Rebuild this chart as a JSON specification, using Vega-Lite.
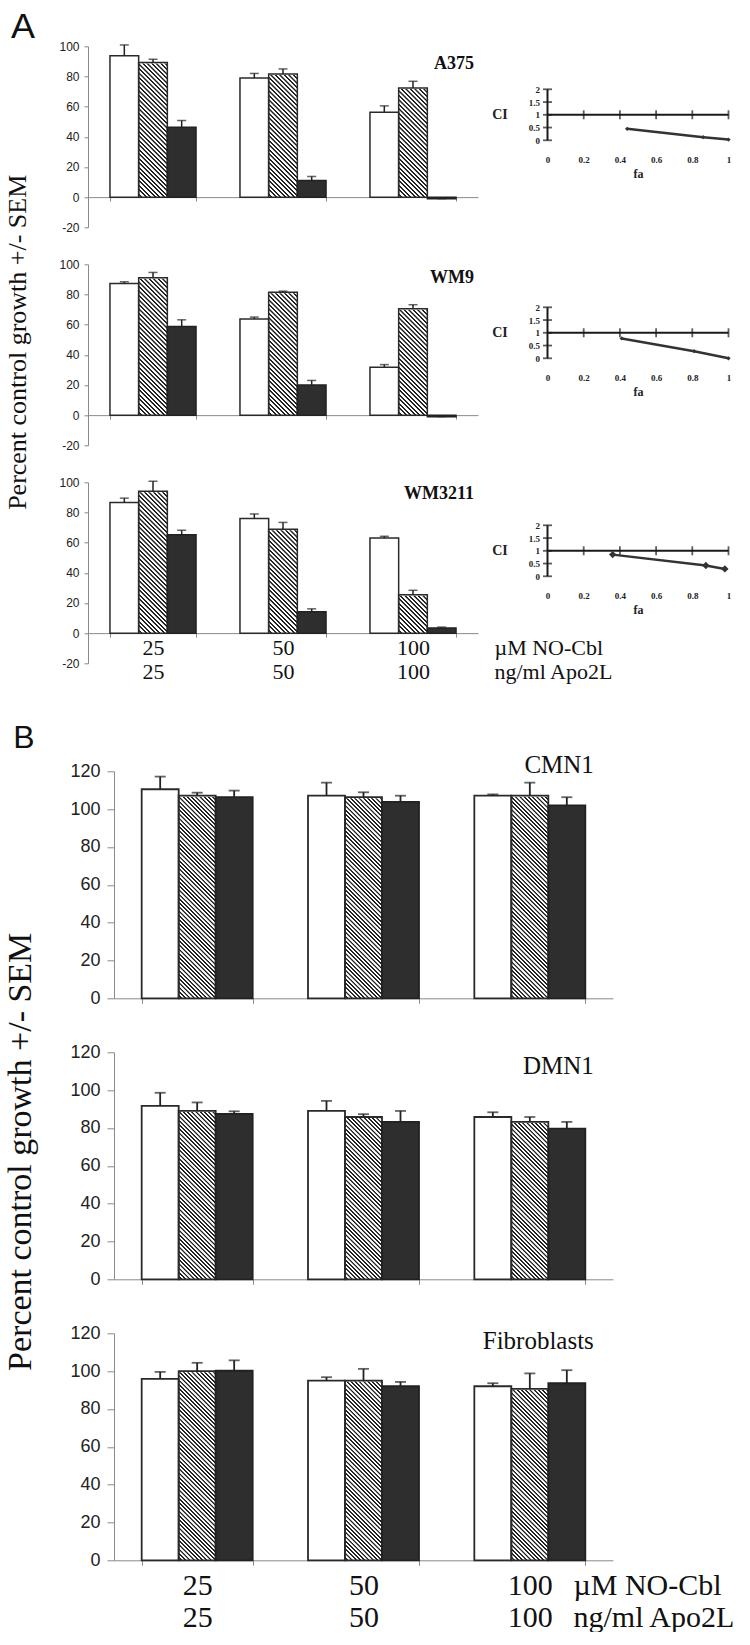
{
"$schema": "https://vega.github.io/schema/vega-lite/v6.json",
"padding": {"left": 2, "top": 8.3, "right": 0, "bottom": 0},
"background": "white",
"params": [
{"name": "hatchA", "value": {"gradient":"linear","x1":0,"y1":1,"x2":0.2184,"y2":-0.1488,"stops":[
{"offset":0,"color":"#fff"},{"offset":0.011,"color":"#fff"},{"offset":0.014,"color":"#222"},{"offset":0.0225,"color":"#222"},
{"offset":0.025,"color":"#fff"},{"offset":0.036,"color":"#fff"},{"offset":0.039,"color":"#222"},{"offset":0.0475,"color":"#222"},
{"offset":0.05,"color":"#fff"},{"offset":0.061,"color":"#fff"},{"offset":0.064,"color":"#222"},{"offset":0.0725,"color":"#222"},
{"offset":0.075,"color":"#fff"},{"offset":0.086,"color":"#fff"},{"offset":0.089,"color":"#222"},{"offset":0.0975,"color":"#222"},
{"offset":0.1,"color":"#fff"},{"offset":0.111,"color":"#fff"},{"offset":0.114,"color":"#222"},{"offset":0.1225,"color":"#222"},
{"offset":0.125,"color":"#fff"},{"offset":0.136,"color":"#fff"},{"offset":0.139,"color":"#222"},{"offset":0.1475,"color":"#222"},
{"offset":0.15,"color":"#fff"},{"offset":0.161,"color":"#fff"},{"offset":0.164,"color":"#222"},{"offset":0.1725,"color":"#222"},
{"offset":0.175,"color":"#fff"},{"offset":0.186,"color":"#fff"},{"offset":0.189,"color":"#222"},{"offset":0.1975,"color":"#222"},
{"offset":0.2,"color":"#fff"},{"offset":0.211,"color":"#fff"},{"offset":0.214,"color":"#222"},{"offset":0.2225,"color":"#222"},
{"offset":0.225,"color":"#fff"},{"offset":0.236,"color":"#fff"},{"offset":0.239,"color":"#222"},{"offset":0.2475,"color":"#222"},
{"offset":0.25,"color":"#fff"},{"offset":0.261,"color":"#fff"},{"offset":0.264,"color":"#222"},{"offset":0.2725,"color":"#222"},
{"offset":0.275,"color":"#fff"},{"offset":0.286,"color":"#fff"},{"offset":0.289,"color":"#222"},{"offset":0.2975,"color":"#222"},
{"offset":0.3,"color":"#fff"},{"offset":0.311,"color":"#fff"},{"offset":0.314,"color":"#222"},{"offset":0.3225,"color":"#222"},
{"offset":0.325,"color":"#fff"},{"offset":0.336,"color":"#fff"},{"offset":0.339,"color":"#222"},{"offset":0.3475,"color":"#222"},
{"offset":0.35,"color":"#fff"},{"offset":0.361,"color":"#fff"},{"offset":0.364,"color":"#222"},{"offset":0.3725,"color":"#222"},
{"offset":0.375,"color":"#fff"},{"offset":0.386,"color":"#fff"},{"offset":0.389,"color":"#222"},{"offset":0.3975,"color":"#222"},
{"offset":0.4,"color":"#fff"},{"offset":0.411,"color":"#fff"},{"offset":0.414,"color":"#222"},{"offset":0.4225,"color":"#222"},
{"offset":0.425,"color":"#fff"},{"offset":0.436,"color":"#fff"},{"offset":0.439,"color":"#222"},{"offset":0.4475,"color":"#222"},
{"offset":0.45,"color":"#fff"},{"offset":0.461,"color":"#fff"},{"offset":0.464,"color":"#222"},{"offset":0.4725,"color":"#222"},
{"offset":0.475,"color":"#fff"},{"offset":0.486,"color":"#fff"},{"offset":0.489,"color":"#222"},{"offset":0.4975,"color":"#222"},
{"offset":0.5,"color":"#fff"},{"offset":0.511,"color":"#fff"},{"offset":0.514,"color":"#222"},{"offset":0.5225,"color":"#222"},
{"offset":0.525,"color":"#fff"},{"offset":0.536,"color":"#fff"},{"offset":0.539,"color":"#222"},{"offset":0.5475,"color":"#222"},
{"offset":0.55,"color":"#fff"},{"offset":0.561,"color":"#fff"},{"offset":0.564,"color":"#222"},{"offset":0.5725,"color":"#222"},
{"offset":0.575,"color":"#fff"},{"offset":0.586,"color":"#fff"},{"offset":0.589,"color":"#222"},{"offset":0.5975,"color":"#222"},
{"offset":0.6,"color":"#fff"},{"offset":0.611,"color":"#fff"},{"offset":0.614,"color":"#222"},{"offset":0.6225,"color":"#222"},
{"offset":0.625,"color":"#fff"},{"offset":0.636,"color":"#fff"},{"offset":0.639,"color":"#222"},{"offset":0.6475,"color":"#222"},
{"offset":0.65,"color":"#fff"},{"offset":0.661,"color":"#fff"},{"offset":0.664,"color":"#222"},{"offset":0.6725,"color":"#222"},
{"offset":0.675,"color":"#fff"},{"offset":0.686,"color":"#fff"},{"offset":0.689,"color":"#222"},{"offset":0.6975,"color":"#222"},
{"offset":0.7,"color":"#fff"},{"offset":0.711,"color":"#fff"},{"offset":0.714,"color":"#222"},{"offset":0.7225,"color":"#222"},
{"offset":0.725,"color":"#fff"},{"offset":0.736,"color":"#fff"},{"offset":0.739,"color":"#222"},{"offset":0.7475,"color":"#222"},
{"offset":0.75,"color":"#fff"},{"offset":0.761,"color":"#fff"},{"offset":0.764,"color":"#222"},{"offset":0.7725,"color":"#222"},
{"offset":0.775,"color":"#fff"},{"offset":0.786,"color":"#fff"},{"offset":0.789,"color":"#222"},{"offset":0.7975,"color":"#222"},
{"offset":0.8,"color":"#fff"},{"offset":0.811,"color":"#fff"},{"offset":0.814,"color":"#222"},{"offset":0.8225,"color":"#222"},
{"offset":0.825,"color":"#fff"},{"offset":0.836,"color":"#fff"},{"offset":0.839,"color":"#222"},{"offset":0.8475,"color":"#222"},
{"offset":0.85,"color":"#fff"},{"offset":0.861,"color":"#fff"},{"offset":0.864,"color":"#222"},{"offset":0.8725,"color":"#222"},
{"offset":0.875,"color":"#fff"},{"offset":0.886,"color":"#fff"},{"offset":0.889,"color":"#222"},{"offset":0.8975,"color":"#222"},
{"offset":0.9,"color":"#fff"},{"offset":0.911,"color":"#fff"},{"offset":0.914,"color":"#222"},{"offset":0.9225,"color":"#222"},
{"offset":0.925,"color":"#fff"},{"offset":0.936,"color":"#fff"},{"offset":0.939,"color":"#222"},{"offset":0.9475,"color":"#222"},
{"offset":0.95,"color":"#fff"},{"offset":0.961,"color":"#fff"},{"offset":0.964,"color":"#222"},{"offset":0.9725,"color":"#222"},
{"offset":0.975,"color":"#fff"},{"offset":0.986,"color":"#fff"},{"offset":0.989,"color":"#222"},{"offset":0.9975,"color":"#222"},
{"offset":1,"color":"#fff"}]}},
{"name": "hatchB", "value": {"gradient":"linear","x1":0,"y1":1,"x2":0.1847,"y2":-0.1331,"stops":[
{"offset":0,"color":"#fff"},{"offset":0.007,"color":"#fff"},{"offset":0.009,"color":"#222"},{"offset":0.0144,"color":"#222"},
{"offset":0.016,"color":"#fff"},{"offset":0.023,"color":"#fff"},{"offset":0.025,"color":"#222"},{"offset":0.0304,"color":"#222"},
{"offset":0.032,"color":"#fff"},{"offset":0.039,"color":"#fff"},{"offset":0.041,"color":"#222"},{"offset":0.0464,"color":"#222"},
{"offset":0.048,"color":"#fff"},{"offset":0.055,"color":"#fff"},{"offset":0.057,"color":"#222"},{"offset":0.0624,"color":"#222"},
{"offset":0.064,"color":"#fff"},{"offset":0.071,"color":"#fff"},{"offset":0.073,"color":"#222"},{"offset":0.0784,"color":"#222"},
{"offset":0.08,"color":"#fff"},{"offset":0.087,"color":"#fff"},{"offset":0.089,"color":"#222"},{"offset":0.0944,"color":"#222"},
{"offset":0.096,"color":"#fff"},{"offset":0.103,"color":"#fff"},{"offset":0.105,"color":"#222"},{"offset":0.1104,"color":"#222"},
{"offset":0.112,"color":"#fff"},{"offset":0.119,"color":"#fff"},{"offset":0.121,"color":"#222"},{"offset":0.1264,"color":"#222"},
{"offset":0.128,"color":"#fff"},{"offset":0.135,"color":"#fff"},{"offset":0.137,"color":"#222"},{"offset":0.1424,"color":"#222"},
{"offset":0.144,"color":"#fff"},{"offset":0.151,"color":"#fff"},{"offset":0.153,"color":"#222"},{"offset":0.1584,"color":"#222"},
{"offset":0.16,"color":"#fff"},{"offset":0.167,"color":"#fff"},{"offset":0.169,"color":"#222"},{"offset":0.1744,"color":"#222"},
{"offset":0.176,"color":"#fff"},{"offset":0.183,"color":"#fff"},{"offset":0.185,"color":"#222"},{"offset":0.1904,"color":"#222"},
{"offset":0.192,"color":"#fff"},{"offset":0.199,"color":"#fff"},{"offset":0.201,"color":"#222"},{"offset":0.2064,"color":"#222"},
{"offset":0.208,"color":"#fff"},{"offset":0.215,"color":"#fff"},{"offset":0.217,"color":"#222"},{"offset":0.2224,"color":"#222"},
{"offset":0.224,"color":"#fff"},{"offset":0.231,"color":"#fff"},{"offset":0.233,"color":"#222"},{"offset":0.2384,"color":"#222"},
{"offset":0.24,"color":"#fff"},{"offset":0.247,"color":"#fff"},{"offset":0.249,"color":"#222"},{"offset":0.2544,"color":"#222"},
{"offset":0.256,"color":"#fff"},{"offset":0.263,"color":"#fff"},{"offset":0.265,"color":"#222"},{"offset":0.2704,"color":"#222"},
{"offset":0.272,"color":"#fff"},{"offset":0.279,"color":"#fff"},{"offset":0.281,"color":"#222"},{"offset":0.2864,"color":"#222"},
{"offset":0.288,"color":"#fff"},{"offset":0.295,"color":"#fff"},{"offset":0.297,"color":"#222"},{"offset":0.3024,"color":"#222"},
{"offset":0.304,"color":"#fff"},{"offset":0.311,"color":"#fff"},{"offset":0.313,"color":"#222"},{"offset":0.3184,"color":"#222"},
{"offset":0.32,"color":"#fff"},{"offset":0.327,"color":"#fff"},{"offset":0.329,"color":"#222"},{"offset":0.3344,"color":"#222"},
{"offset":0.336,"color":"#fff"},{"offset":0.343,"color":"#fff"},{"offset":0.345,"color":"#222"},{"offset":0.3504,"color":"#222"},
{"offset":0.352,"color":"#fff"},{"offset":0.359,"color":"#fff"},{"offset":0.361,"color":"#222"},{"offset":0.3664,"color":"#222"},
{"offset":0.368,"color":"#fff"},{"offset":0.375,"color":"#fff"},{"offset":0.377,"color":"#222"},{"offset":0.3824,"color":"#222"},
{"offset":0.384,"color":"#fff"},{"offset":0.391,"color":"#fff"},{"offset":0.393,"color":"#222"},{"offset":0.3984,"color":"#222"},
{"offset":0.4,"color":"#fff"},{"offset":0.407,"color":"#fff"},{"offset":0.409,"color":"#222"},{"offset":0.4144,"color":"#222"},
{"offset":0.416,"color":"#fff"},{"offset":0.423,"color":"#fff"},{"offset":0.425,"color":"#222"},{"offset":0.4304,"color":"#222"},
{"offset":0.432,"color":"#fff"},{"offset":0.439,"color":"#fff"},{"offset":0.441,"color":"#222"},{"offset":0.4464,"color":"#222"},
{"offset":0.448,"color":"#fff"},{"offset":0.455,"color":"#fff"},{"offset":0.457,"color":"#222"},{"offset":0.4624,"color":"#222"},
{"offset":0.464,"color":"#fff"},{"offset":0.471,"color":"#fff"},{"offset":0.473,"color":"#222"},{"offset":0.4784,"color":"#222"},
{"offset":0.48,"color":"#fff"},{"offset":0.487,"color":"#fff"},{"offset":0.489,"color":"#222"},{"offset":0.4944,"color":"#222"},
{"offset":0.496,"color":"#fff"},{"offset":0.503,"color":"#fff"},{"offset":0.505,"color":"#222"},{"offset":0.5104,"color":"#222"},
{"offset":0.512,"color":"#fff"},{"offset":0.519,"color":"#fff"},{"offset":0.521,"color":"#222"},{"offset":0.5264,"color":"#222"},
{"offset":0.528,"color":"#fff"},{"offset":0.535,"color":"#fff"},{"offset":0.537,"color":"#222"},{"offset":0.5424,"color":"#222"},
{"offset":0.544,"color":"#fff"},{"offset":0.551,"color":"#fff"},{"offset":0.553,"color":"#222"},{"offset":0.5584,"color":"#222"},
{"offset":0.56,"color":"#fff"},{"offset":0.567,"color":"#fff"},{"offset":0.569,"color":"#222"},{"offset":0.5744,"color":"#222"},
{"offset":0.576,"color":"#fff"},{"offset":0.583,"color":"#fff"},{"offset":0.585,"color":"#222"},{"offset":0.5904,"color":"#222"},
{"offset":0.592,"color":"#fff"},{"offset":0.599,"color":"#fff"},{"offset":0.601,"color":"#222"},{"offset":0.6064,"color":"#222"},
{"offset":0.608,"color":"#fff"},{"offset":0.615,"color":"#fff"},{"offset":0.617,"color":"#222"},{"offset":0.6224,"color":"#222"},
{"offset":0.624,"color":"#fff"},{"offset":0.631,"color":"#fff"},{"offset":0.633,"color":"#222"},{"offset":0.6384,"color":"#222"},
{"offset":0.64,"color":"#fff"},{"offset":0.647,"color":"#fff"},{"offset":0.649,"color":"#222"},{"offset":0.6544,"color":"#222"},
{"offset":0.656,"color":"#fff"},{"offset":0.663,"color":"#fff"},{"offset":0.665,"color":"#222"},{"offset":0.6704,"color":"#222"},
{"offset":0.672,"color":"#fff"},{"offset":0.679,"color":"#fff"},{"offset":0.681,"color":"#222"},{"offset":0.6864,"color":"#222"},
{"offset":0.688,"color":"#fff"},{"offset":0.695,"color":"#fff"},{"offset":0.697,"color":"#222"},{"offset":0.7024,"color":"#222"},
{"offset":0.704,"color":"#fff"},{"offset":0.711,"color":"#fff"},{"offset":0.713,"color":"#222"},{"offset":0.7184,"color":"#222"},
{"offset":0.72,"color":"#fff"},{"offset":0.727,"color":"#fff"},{"offset":0.729,"color":"#222"},{"offset":0.7344,"color":"#222"},
{"offset":0.736,"color":"#fff"},{"offset":0.743,"color":"#fff"},{"offset":0.745,"color":"#222"},{"offset":0.7504,"color":"#222"},
{"offset":0.752,"color":"#fff"},{"offset":0.759,"color":"#fff"},{"offset":0.761,"color":"#222"},{"offset":0.7664,"color":"#222"},
{"offset":0.768,"color":"#fff"},{"offset":0.775,"color":"#fff"},{"offset":0.777,"color":"#222"},{"offset":0.7824,"color":"#222"},
{"offset":0.784,"color":"#fff"},{"offset":0.791,"color":"#fff"},{"offset":0.793,"color":"#222"},{"offset":0.7984,"color":"#222"},
{"offset":0.8,"color":"#fff"},{"offset":0.807,"color":"#fff"},{"offset":0.809,"color":"#222"},{"offset":0.8144,"color":"#222"},
{"offset":0.816,"color":"#fff"},{"offset":0.823,"color":"#fff"},{"offset":0.825,"color":"#222"},{"offset":0.8304,"color":"#222"},
{"offset":0.832,"color":"#fff"},{"offset":0.839,"color":"#fff"},{"offset":0.841,"color":"#222"},{"offset":0.8464,"color":"#222"},
{"offset":0.848,"color":"#fff"},{"offset":0.855,"color":"#fff"},{"offset":0.857,"color":"#222"},{"offset":0.8624,"color":"#222"},
{"offset":0.864,"color":"#fff"},{"offset":0.871,"color":"#fff"},{"offset":0.873,"color":"#222"},{"offset":0.8784,"color":"#222"},
{"offset":0.88,"color":"#fff"},{"offset":0.887,"color":"#fff"},{"offset":0.889,"color":"#222"},{"offset":0.8944,"color":"#222"},
{"offset":0.896,"color":"#fff"},{"offset":0.903,"color":"#fff"},{"offset":0.905,"color":"#222"},{"offset":0.9104,"color":"#222"},
{"offset":0.912,"color":"#fff"},{"offset":0.919,"color":"#fff"},{"offset":0.921,"color":"#222"},{"offset":0.9264,"color":"#222"},
{"offset":0.928,"color":"#fff"},{"offset":0.935,"color":"#fff"},{"offset":0.937,"color":"#222"},{"offset":0.9424,"color":"#222"},
{"offset":0.944,"color":"#fff"},{"offset":0.951,"color":"#fff"},{"offset":0.953,"color":"#222"},{"offset":0.9584,"color":"#222"},
{"offset":0.96,"color":"#fff"},{"offset":0.967,"color":"#fff"},{"offset":0.969,"color":"#222"},{"offset":0.9744,"color":"#222"},
{"offset":0.976,"color":"#fff"},{"offset":0.983,"color":"#fff"},{"offset":0.985,"color":"#222"},{"offset":0.9904,"color":"#222"},
{"offset":0.992,"color":"#fff"},{"offset":1,"color":"#fff"}]}}
],
"datasets": {
"a375": [
{"dose":"25","s":"w","v":93.8,"top":100.9},{"dose":"25","s":"h","v":89.2,"top":91.4},{"dose":"25","s":"b","v":46.4,"top":50.8},
{"dose":"50","s":"w","v":79,"top":82},{"dose":"50","s":"h","v":81.7,"top":85},{"dose":"50","s":"b","v":11,"top":13.7},
{"dose":"100","s":"w","v":56.3,"top":60.5},{"dose":"100","s":"h","v":72.4,"top":76.8},{"dose":"100","s":"b","v":-1,"top":-1}],
"wm9": [
{"dose":"25","s":"w","v":87.3,"top":88.4},{"dose":"25","s":"h","v":91,"top":94.6},{"dose":"25","s":"b","v":58.7,"top":63.2},
{"dose":"50","s":"w","v":63.8,"top":65},{"dose":"50","s":"h","v":81.5,"top":82.2},{"dose":"50","s":"b","v":20,"top":23},
{"dose":"100","s":"w","v":31.7,"top":33.5},{"dose":"100","s":"h","v":70.5,"top":73.2},{"dose":"100","s":"b","v":-1,"top":-1}],
"wm3211": [
{"dose":"25","s":"w","v":86.6,"top":89.5},{"dose":"25","s":"h","v":94,"top":100.7},{"dose":"25","s":"b","v":65.3,"top":68.2},
{"dose":"50","s":"w","v":76,"top":79},{"dose":"50","s":"h","v":68.9,"top":73.4},{"dose":"50","s":"b","v":14.1,"top":16.1},
{"dose":"100","s":"w","v":63,"top":64.2},{"dose":"100","s":"h","v":25.5,"top":28.4},{"dose":"100","s":"b","v":3.4,"top":4}],
"cmn1": [
{"dose":"25","s":"w","v":110.5,"top":117.2},{"dose":"25","s":"h","v":107.1,"top":108.7},{"dose":"25","s":"b","v":106.4,"top":109.8},
{"dose":"50","s":"w","v":107.1,"top":114},{"dose":"50","s":"h","v":106.3,"top":108.9},{"dose":"50","s":"b","v":103.8,"top":107.1},
{"dose":"100","s":"w","v":107.1,"top":107.8},{"dose":"100","s":"h","v":107.1,"top":114},{"dose":"100","s":"b","v":102,"top":106.3}],
"dmn1": [
{"dose":"25","s":"w","v":91.7,"top":98.6},{"dose":"25","s":"h","v":89,"top":93.5},{"dose":"25","s":"b","v":87.4,"top":88.8},
{"dose":"50","s":"w","v":89,"top":94.3},{"dose":"50","s":"h","v":85.8,"top":87.3},{"dose":"50","s":"b","v":83.2,"top":89},
{"dose":"100","s":"w","v":85.8,"top":88.3},{"dose":"100","s":"h","v":83.2,"top":85.8},{"dose":"100","s":"b","v":79.6,"top":83.2}],
"fib": [
{"dose":"25","s":"w","v":95.9,"top":99.6},{"dose":"25","s":"h","v":100,"top":104.4},{"dose":"25","s":"b","v":100.2,"top":105.7},
{"dose":"50","s":"w","v":95,"top":96.8},{"dose":"50","s":"h","v":95,"top":101.2},{"dose":"50","s":"b","v":92,"top":94.3},
{"dose":"100","s":"w","v":92,"top":93.6},{"dose":"100","s":"h","v":90.6,"top":98.8},{"dose":"100","s":"b","v":93.6,"top":100.5}],
"ciA375": [{"fa":0.44,"ci":0.45},{"fa":0.86,"ci":0.12},{"fa":1,"ci":0.03}],
"ciWM9": [{"fa":0.41,"ci":0.78},{"fa":0.81,"ci":0.28},{"fa":1,"ci":0.0}],
"ciWM3211": [{"fa":0.36,"ci":0.85},{"fa":0.875,"ci":0.42},{"fa":0.98,"ci":0.29}],
"faTicks": [{"fa":0.2},{"fa":0.4},{"fa":0.6},{"fa":0.8},{"fa":1}],
"ciTicks": [{"ci":0},{"ci":0.5},{"ci":1},{"ci":1.5},{"ci":2}]
},
"spacing": 39,
"bounds": "full",
"resolve": {"scale": {"x": "independent", "y": "independent", "xOffset": "independent"}},
"vconcat": [
{"columns": 2, "spacing": {"row": 0, "column": 69.5}, "bounds": "flush", "align": "each",
 "resolve": {"scale": {"x": "independent", "y": "independent", "xOffset": "independent"}},
 "concat": [
{"width":390,"height":181,"data":{"name":"a375"},
 "encoding":{"x":{"field":"dose","type":"ordinal","sort":["25","50","100"],"scale":{"paddingInner":0.338,"paddingOuter":0.169},"axis":{"title":null,"labels":false,"ticks":true,"tickBand":"extent","offset":-30.17,"domainColor":"#8a8a8a","tickColor":"#8a8a8a","tickSize":4}}},
 "layer":[
  {"transform":[{"filter":"datum.s == 'h'"}],"mark":{"type":"bar","fill":{"expr":"hatchA"},"strokeWidth":0},"encoding":{"xOffset":{"field":"s","type":"nominal","scale":{"domain":["w","h","b"],"paddingInner":0,"paddingOuter":0}},"y":{"datum":0,"type":"quantitative","scale":{"domain":[-20,100],"nice":false,"zero":false},"axis":{"values":[-20,0,20,40,60,80,100],"tickCount":20,"labelExpr":"datum.value < 0 ? '-' + abs(datum.value) : '' + datum.value","title":null,"labelOverlap":false,"domainColor":"#8a8a8a","tickColor":"#8a8a8a","tickSize":4,"labelPadding":5,"labelFont":"Liberation Sans","labelFontSize":12,"labelColor":"#222"}},"y2":{"datum":100}}},
  {"transform":[{"filter":"datum.s == 'h'"}],"mark":{"type":"bar","fill":"#fff","stroke":"#fff","strokeWidth":2},"encoding":{"xOffset":{"field":"s","type":"nominal","scale":{"domain":["w","h","b"],"paddingInner":0,"paddingOuter":0}},"y":{"field":"v","type":"quantitative","scale":{"domain":[-20,100],"nice":false,"zero":false}},"y2":{"datum":100}}},
  {"transform":[{"filter":"datum.s == 'w'"}],"mark":{"type":"bar","fill":"#fff","stroke":"#2a2a2a","strokeWidth":1.5},"encoding":{"xOffset":{"field":"s","type":"nominal","scale":{"domain":["w","h","b"],"paddingInner":0,"paddingOuter":0}},"y":{"field":"v","type":"quantitative","scale":{"domain":[-20,100],"nice":false,"zero":false}},"y2":{"datum":0}}},
  {"transform":[{"filter":"datum.s == 'h'"}],"mark":{"type":"bar","fill":"#fff","fillOpacity":0,"stroke":"#2a2a2a","strokeWidth":1.5},"encoding":{"xOffset":{"field":"s","type":"nominal","scale":{"domain":["w","h","b"],"paddingInner":0,"paddingOuter":0}},"y":{"field":"v","type":"quantitative","scale":{"domain":[-20,100],"nice":false,"zero":false}},"y2":{"datum":0}}},
  {"transform":[{"filter":"datum.s == 'b'"}],"mark":{"type":"bar","fill":"#2e2e2e","stroke":"#222","strokeWidth":1.5},"encoding":{"xOffset":{"field":"s","type":"nominal","scale":{"domain":["w","h","b"],"paddingInner":0,"paddingOuter":0}},"y":{"field":"v","type":"quantitative","scale":{"domain":[-20,100],"nice":false,"zero":false}},"y2":{"datum":0}}},
  {"mark":{"type":"rule","color":"#222","strokeWidth":1.5},"encoding":{"xOffset":{"field":"s","type":"nominal","scale":{"domain":["w","h","b"],"paddingInner":0,"paddingOuter":0}},"y":{"field":"v","type":"quantitative","scale":{"domain":[-20,100],"nice":false,"zero":false}},"y2":{"field":"top"}}},
  {"mark":{"type":"tick","color":"#222","size":9,"thickness":1.5},"encoding":{"xOffset":{"field":"s","type":"nominal","scale":{"domain":["w","h","b"],"paddingInner":0,"paddingOuter":0}},"y":{"field":"top","type":"quantitative","scale":{"domain":[-20,100],"nice":false,"zero":false}}}},
  {"data":{"values":[{"t":"A375"}]},"mark":{"type":"text","align":"right","baseline":"middle","dx":61,"font":"Liberation Serif","fontSize":18,"fontWeight":"bold","color":"#111"},"encoding":{"x":{"datum":"100","type":"ordinal"},"y":{"datum":88,"type":"quantitative","scale":{"domain":[-20,100],"nice":false,"zero":false}},"text":{"field":"t"}}},
  {"data":{"values":[{"t":"A"}]},"mark":{"type":"text","align":"left","baseline":"alphabetic","dx":-142,"font":"Liberation Sans","fontSize":36,"color":"#111"},"encoding":{"x":{"datum":"25","type":"ordinal"},"y":{"datum":105.8,"type":"quantitative","scale":{"domain":[-20,100],"nice":false,"zero":false}},"text":{"field":"t"}}}
 ]},
{"width":181,"height":181,"layer":[
 {"data":{"values":[{}]},"mark":{"type":"rule","color":"#1a1a1a","strokeWidth":2},"encoding":{"x":{"datum":0,"type":"quantitative","scale":{"domain":[0,1],"nice":false,"zero":false},"axis":{"values":[0,0.2,0.4,0.6,0.8,1],"tickCount":20,"format":"~g","title":"fa","offset":-73,"domain":false,"ticks":false,"tickSize":0,"labelPadding":1,"labelFont":"Liberation Serif","labelFontWeight":"bold","labelFontSize":9,"labelColor":"#222","labelFlush":false,"labelOverlap":false,"titleFont":"Liberation Serif","titleFontWeight":"bold","titleFontSize":12,"titleColor":"#222","titlePadding":4}},"x2":{"datum":1},"y":{"datum":1,"type":"quantitative","scale":{"domain":[-3.412,3.686],"nice":false,"zero":false},"axis":{"values":[0,0.5,1,1.5,2],"tickCount":20,"format":"~g","title":"CI","titleAngle":0,"titleX":-48,"titleY":68.5,"titleAlign":"center","titleBaseline":"middle","titleFont":"Liberation Serif","titleFontWeight":"bold","titleFontSize":14,"titleColor":"#222","domain":false,"ticks":false,"tickSize":0,"labelPadding":8,"labelFont":"Liberation Serif","labelFontWeight":"bold","labelFontSize":9,"labelColor":"#222","labelOverlap":false,"labelFlush":false}}}},
 {"data":{"values":[{}]},"mark":{"type":"rule","color":"#1a1a1a","strokeWidth":2},"encoding":{"x":{"datum":0,"type":"quantitative","scale":{"domain":[0,1],"nice":false,"zero":false}},"y":{"datum":0,"type":"quantitative","scale":{"domain":[-3.412,3.686],"nice":false,"zero":false}},"y2":{"datum":2}}},
 {"data":{"name":"faTicks"},"mark":{"type":"tick","orient":"vertical","size":9,"thickness":1.8,"color":"#1a1a1a"},"encoding":{"x":{"field":"fa","type":"quantitative","scale":{"domain":[0,1],"nice":false,"zero":false}},"y":{"datum":1,"type":"quantitative","scale":{"domain":[-3.412,3.686],"nice":false,"zero":false}}}},
 {"data":{"name":"ciTicks"},"mark":{"type":"tick","orient":"horizontal","size":9,"thickness":1.8,"color":"#1a1a1a"},"encoding":{"x":{"datum":0,"type":"quantitative","scale":{"domain":[0,1],"nice":false,"zero":false}},"y":{"field":"ci","type":"quantitative","scale":{"domain":[-3.412,3.686],"nice":false,"zero":false}}}},
 {"data":{"name":"ciA375"},"mark":{"type":"line","color":"#333","strokeWidth":2.5,"point":{"shape":"diamond","size":18,"color":"#333","filled":true}},"encoding":{"x":{"field":"fa","type":"quantitative","scale":{"domain":[0,1],"nice":false,"zero":false}},"y":{"field":"ci","type":"quantitative","scale":{"domain":[-3.412,3.686],"nice":false,"zero":false}}}}
]},
{"width":1,"height":36.6,"data":{"values":[]},"mark":"point"},
{"width":1,"height":1,"data":{"values":[]},"mark":"point"},
{"width":390,"height":181,"data":{"name":"wm9"},
 "encoding":{"x":{"field":"dose","type":"ordinal","sort":["25","50","100"],"scale":{"paddingInner":0.338,"paddingOuter":0.169},"axis":{"title":null,"labels":false,"ticks":true,"tickBand":"extent","offset":-30.17,"domainColor":"#8a8a8a","tickColor":"#8a8a8a","tickSize":4}}},
 "layer":[
  {"transform":[{"filter":"datum.s == 'h'"}],"mark":{"type":"bar","fill":{"expr":"hatchA"},"strokeWidth":0},"encoding":{"xOffset":{"field":"s","type":"nominal","scale":{"domain":["w","h","b"],"paddingInner":0,"paddingOuter":0}},"y":{"datum":0,"type":"quantitative","scale":{"domain":[-20,100],"nice":false,"zero":false},"axis":{"values":[-20,0,20,40,60,80,100],"tickCount":20,"labelExpr":"datum.value < 0 ? '-' + abs(datum.value) : '' + datum.value","title":"Percent control growth +/- SEM","titleX":-71,"titleY":77.5,"titleAngle":270,"titleAlign":"center","titleBaseline":"middle","titleFont":"Liberation Serif","titleFontSize":26,"titleFontWeight":"normal","titleColor":"#111","labelOverlap":false,"domainColor":"#8a8a8a","tickColor":"#8a8a8a","tickSize":4,"labelPadding":5,"labelFont":"Liberation Sans","labelFontSize":12,"labelColor":"#222"}},"y2":{"datum":100}}},
  {"transform":[{"filter":"datum.s == 'h'"}],"mark":{"type":"bar","fill":"#fff","stroke":"#fff","strokeWidth":2},"encoding":{"xOffset":{"field":"s","type":"nominal","scale":{"domain":["w","h","b"],"paddingInner":0,"paddingOuter":0}},"y":{"field":"v","type":"quantitative","scale":{"domain":[-20,100],"nice":false,"zero":false}},"y2":{"datum":100}}},
  {"transform":[{"filter":"datum.s == 'w'"}],"mark":{"type":"bar","fill":"#fff","stroke":"#2a2a2a","strokeWidth":1.5},"encoding":{"xOffset":{"field":"s","type":"nominal","scale":{"domain":["w","h","b"],"paddingInner":0,"paddingOuter":0}},"y":{"field":"v","type":"quantitative","scale":{"domain":[-20,100],"nice":false,"zero":false}},"y2":{"datum":0}}},
  {"transform":[{"filter":"datum.s == 'h'"}],"mark":{"type":"bar","fill":"#fff","fillOpacity":0,"stroke":"#2a2a2a","strokeWidth":1.5},"encoding":{"xOffset":{"field":"s","type":"nominal","scale":{"domain":["w","h","b"],"paddingInner":0,"paddingOuter":0}},"y":{"field":"v","type":"quantitative","scale":{"domain":[-20,100],"nice":false,"zero":false}},"y2":{"datum":0}}},
  {"transform":[{"filter":"datum.s == 'b'"}],"mark":{"type":"bar","fill":"#2e2e2e","stroke":"#222","strokeWidth":1.5},"encoding":{"xOffset":{"field":"s","type":"nominal","scale":{"domain":["w","h","b"],"paddingInner":0,"paddingOuter":0}},"y":{"field":"v","type":"quantitative","scale":{"domain":[-20,100],"nice":false,"zero":false}},"y2":{"datum":0}}},
  {"mark":{"type":"rule","color":"#222","strokeWidth":1.5},"encoding":{"xOffset":{"field":"s","type":"nominal","scale":{"domain":["w","h","b"],"paddingInner":0,"paddingOuter":0}},"y":{"field":"v","type":"quantitative","scale":{"domain":[-20,100],"nice":false,"zero":false}},"y2":{"field":"top"}}},
  {"mark":{"type":"tick","color":"#222","size":9,"thickness":1.5},"encoding":{"xOffset":{"field":"s","type":"nominal","scale":{"domain":["w","h","b"],"paddingInner":0,"paddingOuter":0}},"y":{"field":"top","type":"quantitative","scale":{"domain":[-20,100],"nice":false,"zero":false}}}},
  {"data":{"values":[{"t":"WM9"}]},"mark":{"type":"text","align":"right","baseline":"middle","dx":61,"font":"Liberation Serif","fontSize":18,"fontWeight":"bold","color":"#111"},"encoding":{"x":{"datum":"100","type":"ordinal"},"y":{"datum":91,"type":"quantitative","scale":{"domain":[-20,100],"nice":false,"zero":false}},"text":{"field":"t"}}}
 ]},
{"width":181,"height":181,"layer":[
 {"data":{"values":[{}]},"mark":{"type":"rule","color":"#1a1a1a","strokeWidth":2},"encoding":{"x":{"datum":0,"type":"quantitative","scale":{"domain":[0,1],"nice":false,"zero":false},"axis":{"values":[0,0.2,0.4,0.6,0.8,1],"tickCount":20,"format":"~g","title":"fa","offset":-73,"domain":false,"ticks":false,"tickSize":0,"labelPadding":1,"labelFont":"Liberation Serif","labelFontWeight":"bold","labelFontSize":9,"labelColor":"#222","labelFlush":false,"labelOverlap":false,"titleFont":"Liberation Serif","titleFontWeight":"bold","titleFontSize":12,"titleColor":"#222","titlePadding":4}},"x2":{"datum":1},"y":{"datum":1,"type":"quantitative","scale":{"domain":[-3.412,3.686],"nice":false,"zero":false},"axis":{"values":[0,0.5,1,1.5,2],"tickCount":20,"format":"~g","title":"CI","titleAngle":0,"titleX":-48,"titleY":68.5,"titleAlign":"center","titleBaseline":"middle","titleFont":"Liberation Serif","titleFontWeight":"bold","titleFontSize":14,"titleColor":"#222","domain":false,"ticks":false,"tickSize":0,"labelPadding":8,"labelFont":"Liberation Serif","labelFontWeight":"bold","labelFontSize":9,"labelColor":"#222","labelOverlap":false,"labelFlush":false}}}},
 {"data":{"values":[{}]},"mark":{"type":"rule","color":"#1a1a1a","strokeWidth":2},"encoding":{"x":{"datum":0,"type":"quantitative","scale":{"domain":[0,1],"nice":false,"zero":false}},"y":{"datum":0,"type":"quantitative","scale":{"domain":[-3.412,3.686],"nice":false,"zero":false}},"y2":{"datum":2}}},
 {"data":{"name":"faTicks"},"mark":{"type":"tick","orient":"vertical","size":9,"thickness":1.8,"color":"#1a1a1a"},"encoding":{"x":{"field":"fa","type":"quantitative","scale":{"domain":[0,1],"nice":false,"zero":false}},"y":{"datum":1,"type":"quantitative","scale":{"domain":[-3.412,3.686],"nice":false,"zero":false}}}},
 {"data":{"name":"ciTicks"},"mark":{"type":"tick","orient":"horizontal","size":9,"thickness":1.8,"color":"#1a1a1a"},"encoding":{"x":{"datum":0,"type":"quantitative","scale":{"domain":[0,1],"nice":false,"zero":false}},"y":{"field":"ci","type":"quantitative","scale":{"domain":[-3.412,3.686],"nice":false,"zero":false}}}},
 {"data":{"name":"ciWM9"},"mark":{"type":"line","color":"#333","strokeWidth":2.5,"point":{"shape":"diamond","size":18,"color":"#333","filled":true}},"encoding":{"x":{"field":"fa","type":"quantitative","scale":{"domain":[0,1],"nice":false,"zero":false}},"y":{"field":"ci","type":"quantitative","scale":{"domain":[-3.412,3.686],"nice":false,"zero":false}}}}
]},
{"width":1,"height":36.4,"data":{"values":[]},"mark":"point"},
{"width":1,"height":1,"data":{"values":[]},"mark":"point"},
{"width":390,"height":181,"data":{"name":"wm3211"},
 "encoding":{"x":{"field":"dose","type":"ordinal","sort":["25","50","100"],"scale":{"paddingInner":0.338,"paddingOuter":0.169},"axis":{"title":["µM NO-Cbl","ng/ml Apo2L"],"labels":true,"labelExpr":"[datum.label, datum.label]","labelAngle":0,"labelFont":"Liberation Serif","labelFontSize":22,"labelLineHeight":24,"labelColor":"#111","labelPadding":0,"labelOverlap":false,"ticks":true,"tickBand":"extent","offset":-30.17,"domainColor":"#8a8a8a","tickColor":"#8a8a8a","tickSize":4,"titleFont":"Liberation Serif","titleFontSize":22,"titleFontWeight":"normal","titleLineHeight":24,"titleColor":"#111","titleX":406,"titleY":4,"titleAlign":"left","titleBaseline":"top"}}},
 "layer":[
  {"transform":[{"filter":"datum.s == 'h'"}],"mark":{"type":"bar","fill":{"expr":"hatchA"},"strokeWidth":0},"encoding":{"xOffset":{"field":"s","type":"nominal","scale":{"domain":["w","h","b"],"paddingInner":0,"paddingOuter":0}},"y":{"datum":0,"type":"quantitative","scale":{"domain":[-20,100],"nice":false,"zero":false},"axis":{"values":[-20,0,20,40,60,80,100],"tickCount":20,"labelExpr":"datum.value < 0 ? '-' + abs(datum.value) : '' + datum.value","title":null,"labelOverlap":false,"domainColor":"#8a8a8a","tickColor":"#8a8a8a","tickSize":4,"labelPadding":5,"labelFont":"Liberation Sans","labelFontSize":12,"labelColor":"#222"}},"y2":{"datum":100}}},
  {"transform":[{"filter":"datum.s == 'h'"}],"mark":{"type":"bar","fill":"#fff","stroke":"#fff","strokeWidth":2},"encoding":{"xOffset":{"field":"s","type":"nominal","scale":{"domain":["w","h","b"],"paddingInner":0,"paddingOuter":0}},"y":{"field":"v","type":"quantitative","scale":{"domain":[-20,100],"nice":false,"zero":false}},"y2":{"datum":100}}},
  {"transform":[{"filter":"datum.s == 'w'"}],"mark":{"type":"bar","fill":"#fff","stroke":"#2a2a2a","strokeWidth":1.5},"encoding":{"xOffset":{"field":"s","type":"nominal","scale":{"domain":["w","h","b"],"paddingInner":0,"paddingOuter":0}},"y":{"field":"v","type":"quantitative","scale":{"domain":[-20,100],"nice":false,"zero":false}},"y2":{"datum":0}}},
  {"transform":[{"filter":"datum.s == 'h'"}],"mark":{"type":"bar","fill":"#fff","fillOpacity":0,"stroke":"#2a2a2a","strokeWidth":1.5},"encoding":{"xOffset":{"field":"s","type":"nominal","scale":{"domain":["w","h","b"],"paddingInner":0,"paddingOuter":0}},"y":{"field":"v","type":"quantitative","scale":{"domain":[-20,100],"nice":false,"zero":false}},"y2":{"datum":0}}},
  {"transform":[{"filter":"datum.s == 'b'"}],"mark":{"type":"bar","fill":"#2e2e2e","stroke":"#222","strokeWidth":1.5},"encoding":{"xOffset":{"field":"s","type":"nominal","scale":{"domain":["w","h","b"],"paddingInner":0,"paddingOuter":0}},"y":{"field":"v","type":"quantitative","scale":{"domain":[-20,100],"nice":false,"zero":false}},"y2":{"datum":0}}},
  {"mark":{"type":"rule","color":"#222","strokeWidth":1.5},"encoding":{"xOffset":{"field":"s","type":"nominal","scale":{"domain":["w","h","b"],"paddingInner":0,"paddingOuter":0}},"y":{"field":"v","type":"quantitative","scale":{"domain":[-20,100],"nice":false,"zero":false}},"y2":{"field":"top"}}},
  {"mark":{"type":"tick","color":"#222","size":9,"thickness":1.5},"encoding":{"xOffset":{"field":"s","type":"nominal","scale":{"domain":["w","h","b"],"paddingInner":0,"paddingOuter":0}},"y":{"field":"top","type":"quantitative","scale":{"domain":[-20,100],"nice":false,"zero":false}}}},
  {"data":{"values":[{"t":"WM3211"}]},"mark":{"type":"text","align":"right","baseline":"middle","dx":61,"font":"Liberation Serif","fontSize":18,"fontWeight":"bold","color":"#111"},"encoding":{"x":{"datum":"100","type":"ordinal"},"y":{"datum":92,"type":"quantitative","scale":{"domain":[-20,100],"nice":false,"zero":false}},"text":{"field":"t"}}}
 ]},
{"width":181,"height":181,"layer":[
 {"data":{"values":[{}]},"mark":{"type":"rule","color":"#1a1a1a","strokeWidth":2},"encoding":{"x":{"datum":0,"type":"quantitative","scale":{"domain":[0,1],"nice":false,"zero":false},"axis":{"values":[0,0.2,0.4,0.6,0.8,1],"tickCount":20,"format":"~g","title":"fa","offset":-73,"domain":false,"ticks":false,"tickSize":0,"labelPadding":1,"labelFont":"Liberation Serif","labelFontWeight":"bold","labelFontSize":9,"labelColor":"#222","labelFlush":false,"labelOverlap":false,"titleFont":"Liberation Serif","titleFontWeight":"bold","titleFontSize":12,"titleColor":"#222","titlePadding":4}},"x2":{"datum":1},"y":{"datum":1,"type":"quantitative","scale":{"domain":[-3.412,3.686],"nice":false,"zero":false},"axis":{"values":[0,0.5,1,1.5,2],"tickCount":20,"format":"~g","title":"CI","titleAngle":0,"titleX":-48,"titleY":68.5,"titleAlign":"center","titleBaseline":"middle","titleFont":"Liberation Serif","titleFontWeight":"bold","titleFontSize":14,"titleColor":"#222","domain":false,"ticks":false,"tickSize":0,"labelPadding":8,"labelFont":"Liberation Serif","labelFontWeight":"bold","labelFontSize":9,"labelColor":"#222","labelOverlap":false,"labelFlush":false}}}},
 {"data":{"values":[{}]},"mark":{"type":"rule","color":"#1a1a1a","strokeWidth":2},"encoding":{"x":{"datum":0,"type":"quantitative","scale":{"domain":[0,1],"nice":false,"zero":false}},"y":{"datum":0,"type":"quantitative","scale":{"domain":[-3.412,3.686],"nice":false,"zero":false}},"y2":{"datum":2}}},
 {"data":{"name":"faTicks"},"mark":{"type":"tick","orient":"vertical","size":9,"thickness":1.8,"color":"#1a1a1a"},"encoding":{"x":{"field":"fa","type":"quantitative","scale":{"domain":[0,1],"nice":false,"zero":false}},"y":{"datum":1,"type":"quantitative","scale":{"domain":[-3.412,3.686],"nice":false,"zero":false}}}},
 {"data":{"name":"ciTicks"},"mark":{"type":"tick","orient":"horizontal","size":9,"thickness":1.8,"color":"#1a1a1a"},"encoding":{"x":{"datum":0,"type":"quantitative","scale":{"domain":[0,1],"nice":false,"zero":false}},"y":{"field":"ci","type":"quantitative","scale":{"domain":[-3.412,3.686],"nice":false,"zero":false}}}},
 {"data":{"name":"ciWM3211"},"mark":{"type":"line","color":"#333","strokeWidth":2.5,"point":{"shape":"diamond","size":55,"color":"#333","filled":true}},"encoding":{"x":{"field":"fa","type":"quantitative","scale":{"domain":[0,1],"nice":false,"zero":false}},"y":{"field":"ci","type":"quantitative","scale":{"domain":[-3.412,3.686],"nice":false,"zero":false}}}}
]}
 ]},
{"columns": 2, "spacing": {"row": 54, "column": 25}, "bounds": "flush", "align": "each",
 "resolve": {"scale": {"x": "independent", "y": "independent", "xOffset": "independent"}},
 "concat": [
{"width":1,"height":1,"data":{"values":[]},"mark":"point"},
{"width":499,"height":227,"data":{"name":"cmn1"},
 "encoding":{"x":{"field":"dose","type":"ordinal","sort":["25","50","100"],"scale":{"paddingInner":0.3327,"paddingOuter":0.1664},"axis":{"title":null,"labels":false,"ticks":true,"tickBand":"extent","domainColor":"#8a8a8a","tickColor":"#8a8a8a","tickSize":5}}},
 "layer":[
  {"transform":[{"filter":"datum.s == 'h'"}],"mark":{"type":"bar","fill":{"expr":"hatchB"},"strokeWidth":0},"encoding":{"xOffset":{"field":"s","type":"nominal","scale":{"domain":["w","h","b"],"paddingInner":0,"paddingOuter":0}},"y":{"datum":0,"type":"quantitative","scale":{"domain":[0,120],"nice":false,"zero":false},"axis":{"values":[0,20,40,60,80,100,120],"tickCount":20,"title":null,"labelOverlap":false,"domainColor":"#8a8a8a","tickColor":"#8a8a8a","tickSize":7,"labelPadding":7,"labelFont":"Liberation Sans","labelFontSize":18,"labelColor":"#222"}},"y2":{"datum":120}}},
  {"transform":[{"filter":"datum.s == 'h'"}],"mark":{"type":"bar","fill":"#fff","stroke":"#fff","strokeWidth":2},"encoding":{"xOffset":{"field":"s","type":"nominal","scale":{"domain":["w","h","b"],"paddingInner":0,"paddingOuter":0}},"y":{"field":"v","type":"quantitative","scale":{"domain":[0,120],"nice":false,"zero":false}},"y2":{"datum":120}}},
  {"transform":[{"filter":"datum.s == 'w'"}],"mark":{"type":"bar","fill":"#fff","stroke":"#2a2a2a","strokeWidth":1.8},"encoding":{"xOffset":{"field":"s","type":"nominal","scale":{"domain":["w","h","b"],"paddingInner":0,"paddingOuter":0}},"y":{"field":"v","type":"quantitative","scale":{"domain":[0,120],"nice":false,"zero":false}},"y2":{"datum":0}}},
  {"transform":[{"filter":"datum.s == 'h'"}],"mark":{"type":"bar","fill":"#fff","fillOpacity":0,"stroke":"#2a2a2a","strokeWidth":1.8},"encoding":{"xOffset":{"field":"s","type":"nominal","scale":{"domain":["w","h","b"],"paddingInner":0,"paddingOuter":0}},"y":{"field":"v","type":"quantitative","scale":{"domain":[0,120],"nice":false,"zero":false}},"y2":{"datum":0}}},
  {"transform":[{"filter":"datum.s == 'b'"}],"mark":{"type":"bar","fill":"#2e2e2e","stroke":"#222","strokeWidth":1.8},"encoding":{"xOffset":{"field":"s","type":"nominal","scale":{"domain":["w","h","b"],"paddingInner":0,"paddingOuter":0}},"y":{"field":"v","type":"quantitative","scale":{"domain":[0,120],"nice":false,"zero":false}},"y2":{"datum":0}}},
  {"mark":{"type":"rule","color":"#222","strokeWidth":1.8},"encoding":{"xOffset":{"field":"s","type":"nominal","scale":{"domain":["w","h","b"],"paddingInner":0,"paddingOuter":0}},"y":{"field":"v","type":"quantitative","scale":{"domain":[0,120],"nice":false,"zero":false}},"y2":{"field":"top"}}},
  {"mark":{"type":"tick","color":"#222","size":11,"thickness":1.8},"encoding":{"xOffset":{"field":"s","type":"nominal","scale":{"domain":["w","h","b"],"paddingInner":0,"paddingOuter":0}},"y":{"field":"top","type":"quantitative","scale":{"domain":[0,120],"nice":false,"zero":false}}}},
  {"data":{"values":[{"t":"CMN1"}]},"mark":{"type":"text","align":"right","baseline":"middle","dx":64,"font":"Liberation Serif","fontSize":25,"fontWeight":"normal","color":"#111"},"encoding":{"x":{"datum":"100","type":"ordinal"},"y":{"datum":123.5,"type":"quantitative","scale":{"domain":[0,120],"nice":false,"zero":false}},"text":{"field":"t"}}},
  {"data":{"values":[{"t":"B"}]},"mark":{"type":"text","align":"left","baseline":"alphabetic","dx":-184,"font":"Liberation Sans","fontSize":32,"color":"#111"},"encoding":{"x":{"datum":"25","type":"ordinal"},"y":{"datum":132.2,"type":"quantitative","scale":{"domain":[0,120],"nice":false,"zero":false}},"text":{"field":"t"}}}
 ]},
{"width":1,"height":1,"data":{"values":[]},"mark":"point"},
{"width":499,"height":227,"data":{"name":"dmn1"},
 "encoding":{"x":{"field":"dose","type":"ordinal","sort":["25","50","100"],"scale":{"paddingInner":0.3327,"paddingOuter":0.1664},"axis":{"title":null,"labels":false,"ticks":true,"tickBand":"extent","domainColor":"#8a8a8a","tickColor":"#8a8a8a","tickSize":5}}},
 "layer":[
  {"transform":[{"filter":"datum.s == 'h'"}],"mark":{"type":"bar","fill":{"expr":"hatchB"},"strokeWidth":0},"encoding":{"xOffset":{"field":"s","type":"nominal","scale":{"domain":["w","h","b"],"paddingInner":0,"paddingOuter":0}},"y":{"datum":0,"type":"quantitative","scale":{"domain":[0,120],"nice":false,"zero":false},"axis":{"values":[0,20,40,60,80,100,120],"tickCount":20,"title":"Percent control growth +/- SEM","titleX":-94,"titleY":99,"titleAngle":270,"titleAlign":"center","titleBaseline":"middle","titleFont":"Liberation Serif","titleFontSize":34,"titleFontWeight":"normal","titleColor":"#111","labelOverlap":false,"domainColor":"#8a8a8a","tickColor":"#8a8a8a","tickSize":7,"labelPadding":7,"labelFont":"Liberation Sans","labelFontSize":18,"labelColor":"#222"}},"y2":{"datum":120}}},
  {"transform":[{"filter":"datum.s == 'h'"}],"mark":{"type":"bar","fill":"#fff","stroke":"#fff","strokeWidth":2},"encoding":{"xOffset":{"field":"s","type":"nominal","scale":{"domain":["w","h","b"],"paddingInner":0,"paddingOuter":0}},"y":{"field":"v","type":"quantitative","scale":{"domain":[0,120],"nice":false,"zero":false}},"y2":{"datum":120}}},
  {"transform":[{"filter":"datum.s == 'w'"}],"mark":{"type":"bar","fill":"#fff","stroke":"#2a2a2a","strokeWidth":1.8},"encoding":{"xOffset":{"field":"s","type":"nominal","scale":{"domain":["w","h","b"],"paddingInner":0,"paddingOuter":0}},"y":{"field":"v","type":"quantitative","scale":{"domain":[0,120],"nice":false,"zero":false}},"y2":{"datum":0}}},
  {"transform":[{"filter":"datum.s == 'h'"}],"mark":{"type":"bar","fill":"#fff","fillOpacity":0,"stroke":"#2a2a2a","strokeWidth":1.8},"encoding":{"xOffset":{"field":"s","type":"nominal","scale":{"domain":["w","h","b"],"paddingInner":0,"paddingOuter":0}},"y":{"field":"v","type":"quantitative","scale":{"domain":[0,120],"nice":false,"zero":false}},"y2":{"datum":0}}},
  {"transform":[{"filter":"datum.s == 'b'"}],"mark":{"type":"bar","fill":"#2e2e2e","stroke":"#222","strokeWidth":1.8},"encoding":{"xOffset":{"field":"s","type":"nominal","scale":{"domain":["w","h","b"],"paddingInner":0,"paddingOuter":0}},"y":{"field":"v","type":"quantitative","scale":{"domain":[0,120],"nice":false,"zero":false}},"y2":{"datum":0}}},
  {"mark":{"type":"rule","color":"#222","strokeWidth":1.8},"encoding":{"xOffset":{"field":"s","type":"nominal","scale":{"domain":["w","h","b"],"paddingInner":0,"paddingOuter":0}},"y":{"field":"v","type":"quantitative","scale":{"domain":[0,120],"nice":false,"zero":false}},"y2":{"field":"top"}}},
  {"mark":{"type":"tick","color":"#222","size":11,"thickness":1.8},"encoding":{"xOffset":{"field":"s","type":"nominal","scale":{"domain":["w","h","b"],"paddingInner":0,"paddingOuter":0}},"y":{"field":"top","type":"quantitative","scale":{"domain":[0,120],"nice":false,"zero":false}}}},
  {"data":{"values":[{"t":"DMN1"}]},"mark":{"type":"text","align":"right","baseline":"middle","dx":64,"font":"Liberation Serif","fontSize":25,"fontWeight":"normal","color":"#111"},"encoding":{"x":{"datum":"100","type":"ordinal"},"y":{"datum":113,"type":"quantitative","scale":{"domain":[0,120],"nice":false,"zero":false}},"text":{"field":"t"}}}
 ]},
{"width":1,"height":1,"data":{"values":[]},"mark":"point"},
{"width":499,"height":227,"data":{"name":"fib"},
 "encoding":{"x":{"field":"dose","type":"ordinal","sort":["25","50","100"],"scale":{"paddingInner":0.3327,"paddingOuter":0.1664},"axis":{"title":["µM NO-Cbl","ng/ml Apo2L"],"labels":true,"labelExpr":"[datum.label, datum.label]","labelAngle":0,"labelFont":"Liberation Serif","labelFontSize":30,"labelLineHeight":32,"labelColor":"#111","labelPadding":5,"labelOverlap":false,"ticks":true,"tickBand":"extent","domainColor":"#8a8a8a","tickColor":"#8a8a8a","tickSize":5,"titleFont":"Liberation Serif","titleFontSize":30,"titleFontWeight":"normal","titleLineHeight":32,"titleColor":"#111","titleX":459,"titleY":10,"titleAlign":"left","titleBaseline":"top"}}},
 "layer":[
  {"transform":[{"filter":"datum.s == 'h'"}],"mark":{"type":"bar","fill":{"expr":"hatchB"},"strokeWidth":0},"encoding":{"xOffset":{"field":"s","type":"nominal","scale":{"domain":["w","h","b"],"paddingInner":0,"paddingOuter":0}},"y":{"datum":0,"type":"quantitative","scale":{"domain":[0,120],"nice":false,"zero":false},"axis":{"values":[0,20,40,60,80,100,120],"tickCount":20,"title":null,"labelOverlap":false,"domainColor":"#8a8a8a","tickColor":"#8a8a8a","tickSize":7,"labelPadding":7,"labelFont":"Liberation Sans","labelFontSize":18,"labelColor":"#222"}},"y2":{"datum":120}}},
  {"transform":[{"filter":"datum.s == 'h'"}],"mark":{"type":"bar","fill":"#fff","stroke":"#fff","strokeWidth":2},"encoding":{"xOffset":{"field":"s","type":"nominal","scale":{"domain":["w","h","b"],"paddingInner":0,"paddingOuter":0}},"y":{"field":"v","type":"quantitative","scale":{"domain":[0,120],"nice":false,"zero":false}},"y2":{"datum":120}}},
  {"transform":[{"filter":"datum.s == 'w'"}],"mark":{"type":"bar","fill":"#fff","stroke":"#2a2a2a","strokeWidth":1.8},"encoding":{"xOffset":{"field":"s","type":"nominal","scale":{"domain":["w","h","b"],"paddingInner":0,"paddingOuter":0}},"y":{"field":"v","type":"quantitative","scale":{"domain":[0,120],"nice":false,"zero":false}},"y2":{"datum":0}}},
  {"transform":[{"filter":"datum.s == 'h'"}],"mark":{"type":"bar","fill":"#fff","fillOpacity":0,"stroke":"#2a2a2a","strokeWidth":1.8},"encoding":{"xOffset":{"field":"s","type":"nominal","scale":{"domain":["w","h","b"],"paddingInner":0,"paddingOuter":0}},"y":{"field":"v","type":"quantitative","scale":{"domain":[0,120],"nice":false,"zero":false}},"y2":{"datum":0}}},
  {"transform":[{"filter":"datum.s == 'b'"}],"mark":{"type":"bar","fill":"#2e2e2e","stroke":"#222","strokeWidth":1.8},"encoding":{"xOffset":{"field":"s","type":"nominal","scale":{"domain":["w","h","b"],"paddingInner":0,"paddingOuter":0}},"y":{"field":"v","type":"quantitative","scale":{"domain":[0,120],"nice":false,"zero":false}},"y2":{"datum":0}}},
  {"mark":{"type":"rule","color":"#222","strokeWidth":1.8},"encoding":{"xOffset":{"field":"s","type":"nominal","scale":{"domain":["w","h","b"],"paddingInner":0,"paddingOuter":0}},"y":{"field":"v","type":"quantitative","scale":{"domain":[0,120],"nice":false,"zero":false}},"y2":{"field":"top"}}},
  {"mark":{"type":"tick","color":"#222","size":11,"thickness":1.8},"encoding":{"xOffset":{"field":"s","type":"nominal","scale":{"domain":["w","h","b"],"paddingInner":0,"paddingOuter":0}},"y":{"field":"top","type":"quantitative","scale":{"domain":[0,120],"nice":false,"zero":false}}}},
  {"data":{"values":[{"t":"Fibroblasts"}]},"mark":{"type":"text","align":"right","baseline":"middle","dx":64,"font":"Liberation Serif","fontSize":25,"fontWeight":"normal","color":"#111"},"encoding":{"x":{"datum":"100","type":"ordinal"},"y":{"datum":116,"type":"quantitative","scale":{"domain":[0,120],"nice":false,"zero":false}},"text":{"field":"t"}}}
 ]}
 ]}
],
"config": {
 "view": {"stroke": null},
 "axis": {"grid": false, "labelOverlap": false},
 "font": "Liberation Sans"
}
}
